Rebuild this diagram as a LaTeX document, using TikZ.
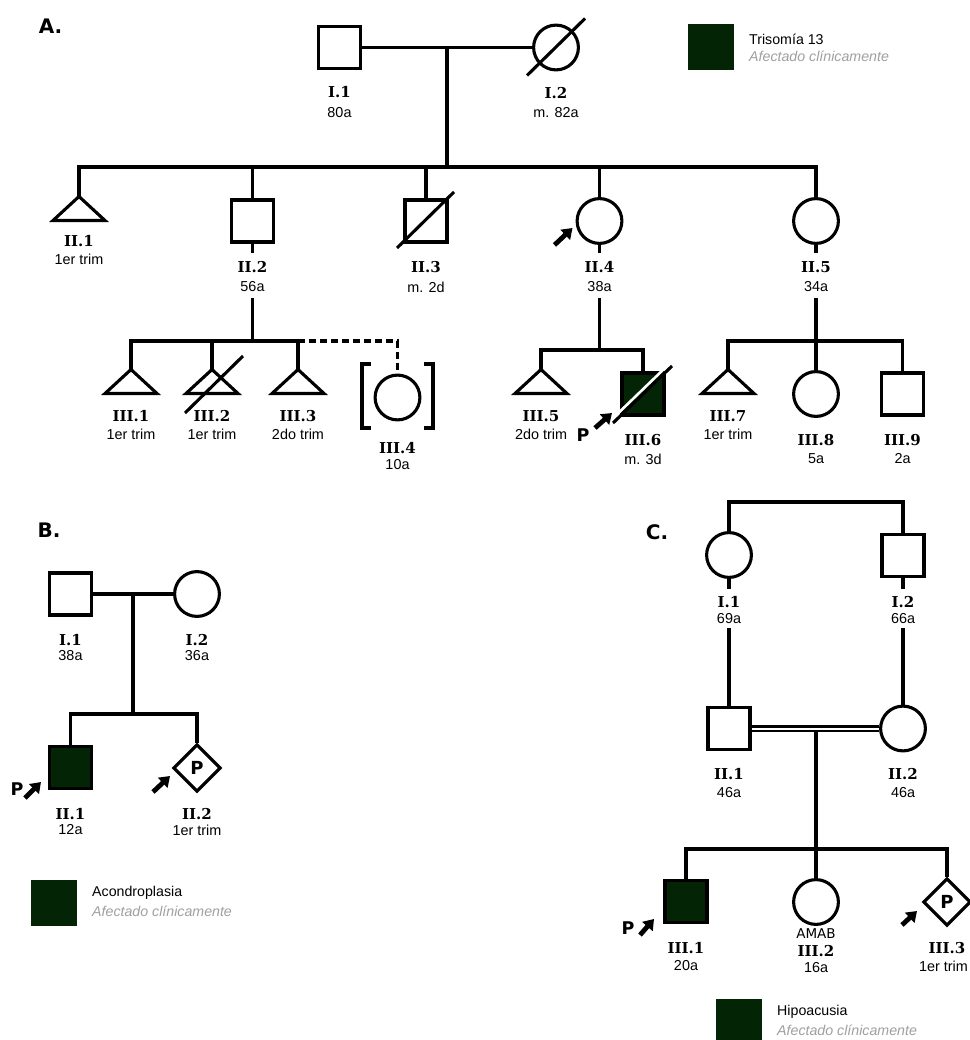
\documentclass[tikz,border=0pt]{standalone}
\usepackage{fontspec}
\setmainfont{Liberation Sans}
\newfontfamily\serifb{DejaVu Serif}
\newfontfamily\sansb{DejaVu Sans}
\usetikzlibrary{shapes.geometric,arrows.meta,calc}
\definecolor{aff}{RGB}{4,36,6}
\definecolor{lgray}{RGB}{160,160,160}
\tikzset{
 ped/.style={line width=3.1pt},
 male/.style={draw, ped, rectangle, minimum size=42pt, inner sep=0pt},
 female/.style={draw, ped, circle, minimum size=44.8pt, inner sep=0pt},
 preg/.style={draw, ped, diamond, minimum width=47.5pt, minimum height=47.5pt, inner sep=0pt, font=\sansb\bfseries\fontsize{18}{20}\selectfont},
 affected/.style={fill=aff},
 tri/.style={ped, line join=miter},
 lbl/.style={inner sep=0pt, font=\serifb\bfseries\fontsize{15}{17}\selectfont},
 age/.style={inner sep=0pt, font=\fontsize{14.4}{16}\selectfont},
 amab/.style={inner sep=0pt, font=\sansb\fontsize{13.5}{15}\selectfont},
 conn/.style={ped},
 dashconn/.style={ped, dash pattern=on 7pt off 4pt},
 proband/.style={line width=4.8pt, -{Triangle[length=10pt,width=13.5pt]}},
 pfont/.style={inner sep=0pt, font=\sansb\bfseries\fontsize{17.5}{20}\selectfont},
 panel/.style={inner sep=0pt, font=\sansb\bfseries\fontsize{20}{24}\selectfont},
 legbox/.style={fill=aff, draw=none, minimum size=46pt, inner sep=0pt},
 legtxt/.style={inner sep=0pt, anchor=west, font=\fontsize{14.2}{16}\selectfont},
 leggray/.style={inner sep=0pt, anchor=west, text=lgray, font=\itshape\fontsize{14.2}{16}\selectfont},
}
\begin{document}
\begin{tikzpicture}[x=1pt,y=-1pt]
\useasboundingbox (0,0) rectangle (969,1040);
\fill[white] (0,0) rectangle (969,1040);

%%%%%%%%%%%%%%%% Panel A
\node[panel] (A-lab) at (50.5,26) {A.};
\node[male] (A-I1) at (339.5,47.5) {};
\node[female] (A-I2) at (556,47.5) {};
\draw[conn] (A-I1.east) -- (A-I2.west);
\draw[ped] ($(A-I2)+(-29,28)$) -- ($(A-I2)+(29,-29)$);
\node[lbl] (A-I1-l) at (339.5,92) {I.1};
\node[age] (A-I1-a) at (339.5,113) {80a};
\node[lbl] (A-I2-l) at (556,93) {I.2};
\node[age] (A-I2-a) at (556,113) {m. 82a};
\coordinate (A-m1) at (447,47.5);
\coordinate (A-s1) at (447,167);
\draw[conn] (A-m1) -- (A-s1);

% legend A
\node[legbox] (A-leg) at (711,47.5) {};
\node[legtxt] (A-leg1) at (749,39) {Trisomía 13};
\node[leggray] (A-leg2) at (749,56) {Afectado clínicamente};

% generation II
\coordinate (A-II1) at (79,196.5);
\node[male] (A-II2) at (252.5,221) {};
\node[male] (A-II3) at (426,221) {};
\node[female] (A-II4) at (599.5,221) {};
\node[female] (A-II5) at (816,221) {};
\draw[tri] (A-II1) -- ++(26,24) -- ++(-52,0) -- cycle;
\draw[conn] (A-II1) |- (A-s1) -| (A-II5.north);
\draw[conn] (A-II2 |- A-s1) -- (A-II2.north);
\draw[conn] (A-II3 |- A-s1) -- (A-II3.north);
\draw[conn] (A-II4 |- A-s1) -- (A-II4.north);
\draw[ped] ($(A-II3)+(-29,27)$) -- ($(A-II3)+(28,-29)$);
\coordinate (A-II4-p0) at ($(A-II4)+(-45,24)$);
\coordinate (A-II4-p1) at ($(A-II4)+(-27,7)$);
\draw[proband] (A-II4-p0) -- (A-II4-p1);

\node[lbl] (A-II1-l) at (79,241) {II.1};
\node[age] (A-II1-a) at (79,259) {1er trim};
\node[lbl] (A-II2-l) at (252.5,267) {II.2};
\node[age] (A-II2-a) at (252.5,287) {56a};
\node[lbl] (A-II3-l) at (426,267) {II.3};
\node[age] (A-II3-a) at (426,287) {m. 2d};
\node[lbl] (A-II4-l) at (599.5,267) {II.4};
\node[age] (A-II4-a) at (599.5,287) {38a};
\node[lbl] (A-II5-l) at (816,267) {II.5};
\node[age] (A-II5-a) at (816,287) {34a};

% stubs and descents
\coordinate (A-II2-st) at (252.5,253);
\coordinate (A-II2-d) at (252.5,298);
\coordinate (A-s2) at (252.5,341);
\draw[conn] (A-II2.south) -- (A-II2-st);
\draw[conn] (A-II2-d) -- (A-s2);
\coordinate (A-II4-st) at (599.5,253);
\coordinate (A-II4-d) at (599.5,298);
\coordinate (A-s3) at (599.5,350);
\draw[conn] (A-II4.south) -- (A-II4-st);
\draw[conn] (A-II4-d) -- (A-s3);
\coordinate (A-II5-st) at (816,253);
\coordinate (A-II5-d) at (816,298);
\coordinate (A-s4) at (816,341);
\draw[conn] (A-II5.south) -- (A-II5-st);
\draw[conn] (A-II5-d) -- (A-s4);

% generation III, children of II.2
\coordinate (A-III1) at (131,369.5);
\coordinate (A-III2) at (212,369.5);
\coordinate (A-III3) at (298,369.5);
\node[female] (A-III4) at (397.5,397.5) {};
\draw[tri] (A-III1) -- ++(26,24) -- ++(-52,0) -- cycle;
\draw[tri] (A-III2) -- ++(26,24) -- ++(-52,0) -- cycle;
\draw[tri] (A-III3) -- ++(26,24) -- ++(-52,0) -- cycle;
\draw[conn] (A-III1) |- (A-s2) -| (A-III3);
\draw[conn] (A-III2 |- A-s2) -- (A-III2);
\draw[dashconn] (A-III3 |- A-s2) -| (A-III4.north);
\draw[ped] ($(A-III2)+(-27,43.5)$) -- ($(A-III2)+(31,-13.5)$);
\draw[ped] ($(A-III4)+(-26.5,-33.5)$) -- ($(A-III4)+(-35.5,-33.5)$) -- ($(A-III4)+(-35.5,30.5)$) -- ($(A-III4)+(-26.5,30.5)$);
\draw[ped] ($(A-III4)+(26.5,-33.5)$) -- ($(A-III4)+(35.5,-33.5)$) -- ($(A-III4)+(35.5,30.5)$) -- ($(A-III4)+(26.5,30.5)$);
\node[lbl] (A-III1-l) at (131,416) {III.1};
\node[age] (A-III1-a) at (131,434) {1er trim};
\node[lbl] (A-III2-l) at (212,416) {III.2};
\node[age] (A-III2-a) at (212,434) {1er trim};
\node[lbl] (A-III3-l) at (298,416) {III.3};
\node[age] (A-III3-a) at (298,434) {2do trim};
\node[lbl] (A-III4-l) at (397.5,448) {III.4};
\node[age] (A-III4-a) at (397.5,465) {10a};

% children of II.4
\coordinate (A-III5) at (541,369.5);
\node[male, affected] (A-III6) at (643,394) {};
\draw[tri] (A-III5) -- ++(26,24) -- ++(-52,0) -- cycle;
\draw[conn] (A-III5) |- (A-s3) -| (A-III6.north);
\draw[white, line width=2.6pt] ($(A-III6)+(-32.4,26.5)$) -- ($(A-III6)+(26.6,-30.5)$);
\draw[ped] ($(A-III6)+(-30,29)$) -- ($(A-III6)+(29,-28)$);
\coordinate (A-III6-p0) at ($(A-III6)+(-48,34)$);
\coordinate (A-III6-p1) at ($(A-III6)+(-31,19)$);
\draw[proband] (A-III6-p0) -- (A-III6-p1);
\node[pfont] (A-III6-P) at (583,435) {P};
\node[lbl] (A-III5-l) at (541,416) {III.5};
\node[age] (A-III5-a) at (541,434) {2do trim};
\node[lbl] (A-III6-l) at (643,440) {III.6};
\node[age] (A-III6-a) at (643,459) {m. 3d};

% children of II.5
\coordinate (A-III7) at (728,369.5);
\node[female] (A-III8) at (816,394) {};
\node[male] (A-III9) at (902.5,394) {};
\draw[tri] (A-III7) -- ++(26,24) -- ++(-52,0) -- cycle;
\draw[conn] (A-III7) |- (A-s4) -| (A-III9.north);
\draw[conn] (A-s4) -- (A-III8.north);
\node[lbl] (A-III7-l) at (728,416) {III.7};
\node[age] (A-III7-a) at (728,434) {1er trim};
\node[lbl] (A-III8-l) at (816,440) {III.8};
\node[age] (A-III8-a) at (816,459) {5a};
\node[lbl] (A-III9-l) at (902.5,440) {III.9};
\node[age] (A-III9-a) at (902.5,459) {2a};

%%%%%%%%%%%%%%%% Panel B
\node[panel] (B-lab) at (49,530) {B.};
\node[male] (B-I1) at (70.5,594) {};
\node[female] (B-I2) at (197,594) {};
\draw[conn] (B-I1.east) -- (B-I2.west);
\coordinate (B-m) at (133,594);
\coordinate (B-s) at (133,714);
\draw[conn] (B-m) -- (B-s);
\node[lbl] (B-I1-l) at (70.5,640) {I.1};
\node[age] (B-I1-a) at (70.5,656) {38a};
\node[lbl] (B-I2-l) at (197,640) {I.2};
\node[age] (B-I2-a) at (197,656) {36a};
\node[male, affected] (B-II1) at (70.5,767.5) {};
\node[preg] (B-II2) at (197,768) {P};
\draw[conn] (B-II1.north) |- (B-s) -| (B-II2.north);
\coordinate (B-II1-p0) at ($(B-II1)+(-45.5,30.5)$);
\coordinate (B-II1-p1) at ($(B-II1)+(-29.5,14.5)$);
\draw[proband] (B-II1-p0) -- (B-II1-p1);
\node[pfont] (B-II1-P) at (17,789) {P};
\coordinate (B-II2-p0) at ($(B-II2)+(-44,24)$);
\coordinate (B-II2-p1) at ($(B-II2)+(-27,8)$);
\draw[proband] (B-II2-p0) -- (B-II2-p1);
\node[lbl] (B-II1-l) at (70.5,814) {II.1};
\node[age] (B-II1-a) at (70.5,830) {12a};
\node[lbl] (B-II2-l) at (197,814) {II.2};
\node[age] (B-II2-a) at (197,830) {1er trim};
\node[legbox] (B-leg) at (54,902.5) {};
\node[legtxt] (B-leg1) at (92,893) {Acondroplasia};
\node[leggray] (B-leg2) at (92,911) {Afectado clínicamente};

%%%%%%%%%%%%%%%% Panel C
\node[panel] (C-lab) at (657,532) {C.};
\node[female] (C-I1) at (729,555) {};
\node[male] (C-I2) at (903,555.5) {};
\coordinate (C-top) at (816,502);
\draw[conn] (C-I1.north) |- (C-top) -| (C-I2.north);
\node[lbl] (C-I1-l) at (729,602) {I.1};
\node[age] (C-I1-a) at (729,619) {69a};
\node[lbl] (C-I2-l) at (903,602) {I.2};
\node[age] (C-I2-a) at (903,619) {66a};
\node[male] (C-II1) at (729,728.5) {};
\node[female] (C-II2) at (903,728.5) {};
\coordinate (C-I1-st) at (729,589);
\coordinate (C-I1-d) at (729,628);
\coordinate (C-I2-st) at (903,589);
\coordinate (C-I2-d) at (903,628);
\draw[conn] (C-I1.south) -- (C-I1-st);
\draw[conn] (C-I1-d) -- (C-II1.north);
\draw[conn] (C-I2.south) -- (C-I2-st);
\draw[conn] (C-I2-d) -- (C-II2.north);
\draw[line width=2.8pt, double, double distance=2pt] (C-II1.east) -- (C-II2.west);
\node[lbl] (C-II1-l) at (729,774) {II.1};
\node[age] (C-II1-a) at (729,793) {46a};
\node[lbl] (C-II2-l) at (903,774) {II.2};
\node[age] (C-II2-a) at (903,793) {46a};
\coordinate (C-m) at (816,731);
\coordinate (C-s) at (816,849);
\node[male, affected] (C-III1) at (686,901.5) {};
\node[female] (C-III2) at (816,902) {};
\node[preg] (C-III3) at (947,902) {P};
\draw[conn] (C-III1.north) |- (C-s) -| (C-III3.north);
\draw[conn] (C-m) -- (C-III2.north);
\coordinate (C-III1-p0) at ($(C-III1)+(-46,33.5)$);
\coordinate (C-III1-p1) at ($(C-III1)+(-32,17.5)$);
\draw[proband] (C-III1-p0) -- (C-III1-p1);
\node[pfont] (C-III1-P) at (628,928) {P};
\coordinate (C-III3-p0) at ($(C-III3)+(-45,23)$);
\coordinate (C-III3-p1) at ($(C-III3)+(-30,9)$);
\draw[proband] (C-III3-p0) -- (C-III3-p1);
\node[amab] (C-III2-x) at (816,934) {AMAB};
\node[lbl] (C-III1-l) at (686,948) {III.1};
\node[age] (C-III1-a) at (686,966) {20a};
\node[lbl] (C-III2-l) at (816,951) {III.2};
\node[age] (C-III2-a) at (816,968) {16a};
\node[lbl] (C-III3-l) at (947,948) {III.3};
\node[age, anchor=east] (C-III3-a) at (968,966) {1er trim};
\node[legbox] (C-leg) at (739,1022) {};
\node[legtxt] (C-leg1) at (777,1012) {Hipoacusia};
\node[leggray] (C-leg2) at (777,1030) {Afectado clínicamente};
\end{tikzpicture}
\end{document}
